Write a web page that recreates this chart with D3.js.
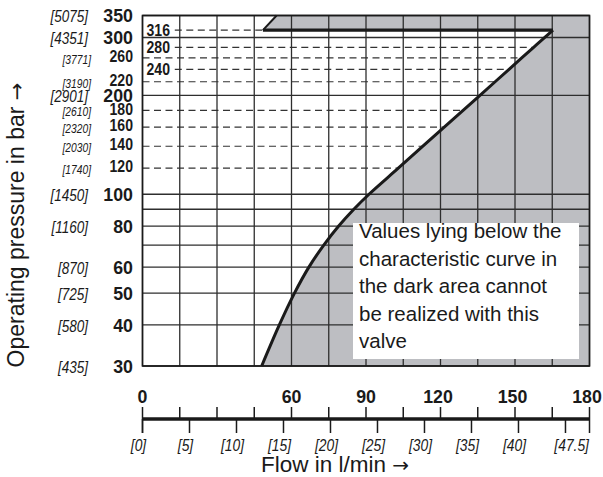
<!DOCTYPE html>
<html>
<head>
<meta charset="utf-8">
<script src="https://cdn.jsdelivr.net/npm/d3@7"></script>
<style>
  body { margin: 0; background: #fff; }
  text { fill: #1a1a1a; }
</style>
</head>
<body>
<script>
// pressure (bar) labels, with psi in brackets
var pressureMajor = [350, 300, 200, 100, 80, 60, 50, 40, 30];
var psiMajor = ['[5075]', '[4351]', '[2901]', '[1450]', '[1160]', '[870]', '[725]', '[580]', '[435]'];
var pressureMinor = [260, 220, 180, 160, 140, 120];
var psiMinor = ['[3771]', '[3190]', '[2610]', '[2320]', '[2030]', '[1740]'];
var pressureInside = [316, 280, 240];

var solidLines = [350, 300, 200, 100, 90, 80, 70, 60, 50, 40, 30];
var dashedLines = [316, 280, 260, 240, 220, 180, 160, 140, 120];

// flow axis
var flowTicks = [0, 15, 30, 45, 60, 75, 90, 105, 120, 135, 150, 165, 180];
var flowLabels = [0, 60, 90, 120, 150, 180];
var gpmTicks = [0, 5, 10, 15, 20, 25, 30, 35, 40, 45];
var gpmLabels = ['[0]', '[5]', '[10]', '[15]', '[20]', '[25]', '[30]', '[35]', '[40]', '[47.5]'];
var gpmValues = [0, 5, 10, 15, 20, 25, 30, 35, 40, 47.5];
var lpmPerGpm = 3.785;

// characteristic curve
var curveBar  = [30, 40, 50, 60, 70, 80, 90, 100, 120, 140, 160, 180, 200, 220, 240, 260, 280, 300, 316];
var curveFlow = [48, 55.1, 61.2, 67, 73, 79, 85.1, 91.2, 103, 112.9, 121.5, 129.1, 135.9, 142, 147.6, 152.7, 157.5, 162, 165.3];
// left edge of the dark area above the 316 bar limit
var limitBar  = [316, 350];
var limitFlow = [48.5, 54];

var note = ['Values lying below the', 'characteristic curve in', 'the dark area cannot',
            'be realized with this', 'valve'];

var W = 603, H = 477;
var sans = "'Liberation Sans', Arial, sans-serif";
var grey = '#bdbec2';
var ink = '#1a1a1a';

var x = d3.scaleLinear().domain([0, 180]).range([142.5, 589.5]);
var y = d3.scaleLog().domain([30, 350]).range([366, 15.5]);

var svg = d3.select('body').append('svg')
  .attr('width', W)
  .attr('height', H);

var curvePts = curveBar.map(function(p, i) { return {p: p, q: curveFlow[i]}; });

// squeezed text, the chart uses a condensed face
function squeezed(sel, sx, px, py) {
  return sel.attr('transform', function(d, i) {
    return 'translate(' + px(d, i) + ',' + py(d, i) + ') scale(' + sx + ',1)';
  });
}

// dashed guide lines (the dark area is painted over them)
svg.append('g').selectAll('line')
  .data(dashedLines)
  .enter().append('line')
  .attr('x1', function(d) { return pressureInside.indexOf(d) >= 0 ? x(13) : x(0); })
  .attr('x2', x(180))
  .attr('y1', function(d) { return y(d); })
  .attr('y2', function(d) { return y(d); })
  .attr('stroke', '#333')
  .attr('stroke-width', 1.2)
  .attr('stroke-dasharray', '7,4.5');

// dark area right of the curve
var area = d3.area()
  .y(function(d) { return y(d.p); })
  .x0(function(d) { return x(d.q); })
  .x1(x(180))
  .curve(d3.curveCatmullRom);

svg.append('path')
  .datum(curvePts)
  .attr('d', area)
  .attr('fill', grey);

var topPts = [
  {p: limitBar[0], q: limitFlow[0]},
  {p: limitBar[1], q: limitFlow[1]},
  {p: limitBar[1], q: 180},
  {p: limitBar[0], q: 180}
];
svg.append('path')
  .datum(topPts)
  .attr('d', d3.line().x(function(d) { return x(d.q); }).y(function(d) { return y(d.p); }))
  .attr('fill', grey);

// solid grid
var grid = svg.append('g').attr('stroke', '#2e2e2e').attr('stroke-width', 1.3);
grid.selectAll('.h')
  .data(solidLines)
  .enter().append('line')
  .attr('x1', x(0)).attr('x2', x(180))
  .attr('y1', function(d) { return y(d); })
  .attr('y2', function(d) { return y(d); });
grid.selectAll('.v')
  .data(flowTicks)
  .enter().append('line')
  .attr('x1', function(d) { return x(d); })
  .attr('x2', function(d) { return x(d); })
  .attr('y1', y(350)).attr('y2', y(30));

// frame
svg.append('rect')
  .attr('x', x(0)).attr('y', y(350))
  .attr('width', x(180) - x(0)).attr('height', y(30) - y(350))
  .attr('fill', 'none').attr('stroke', ink).attr('stroke-width', 1.6);

// characteristic curve
svg.append('path')
  .datum(curvePts)
  .attr('d', d3.line().x(function(d) { return x(d.q); }).y(function(d) { return y(d.p); }).curve(d3.curveCatmullRom))
  .attr('fill', 'none').attr('stroke', ink).attr('stroke-width', 3);

// 316 bar limit
svg.append('line')
  .attr('x1', x(limitFlow[0])).attr('x2', x(curveFlow[curveFlow.length - 1]))
  .attr('y1', y(316)).attr('y2', y(316))
  .attr('stroke', ink).attr('stroke-width', 3.2);
svg.append('line')
  .attr('x1', x(limitFlow[0])).attr('x2', x(limitFlow[1]))
  .attr('y1', y(limitBar[0])).attr('y2', y(limitBar[1]))
  .attr('stroke', ink).attr('stroke-width', 2);

// labels inside the chart
squeezed(svg.append('g').selectAll('text')
  .data(pressureInside)
  .enter().append('text'), 0.88,
  function() { return x(0) + 4; }, function(d) { return y(d); })
  .attr('dy', '0.36em')
  .attr('font-family', sans).attr('font-weight', 'bold').attr('font-size', 16)
  .text(function(d) { return d; });

// y labels, bar
squeezed(svg.append('g').selectAll('text')
  .data(pressureMajor)
  .enter().append('text'), 0.96,
  function() { return 133; }, function(d) { return y(d); })
  .attr('dy', '0.36em')
  .attr('text-anchor', 'end')
  .attr('font-family', sans).attr('font-weight', 'bold').attr('font-size', 18.5)
  .text(function(d) { return d; });
squeezed(svg.append('g').selectAll('text')
  .data(pressureMinor)
  .enter().append('text'), 0.88,
  function() { return 133; }, function(d) { return y(d) - 1.5; })
  .attr('dy', '0.36em')
  .attr('text-anchor', 'end')
  .attr('font-family', sans).attr('font-weight', 'bold').attr('font-size', 16)
  .text(function(d) { return d; });

// y labels, psi
squeezed(svg.append('g').selectAll('text')
  .data(psiMajor)
  .enter().append('text'), 0.82,
  function() { return 88; }, function(d, i) { return y(pressureMajor[i]) + 1; })
  .attr('dy', '0.36em')
  .attr('text-anchor', 'end')
  .attr('font-family', sans).attr('font-style', 'italic').attr('font-size', 16.5)
  .text(function(d) { return d; });
squeezed(svg.append('g').selectAll('text')
  .data(psiMinor)
  .enter().append('text'), 0.76,
  function() { return 91; }, function(d, i) { return y(pressureMinor[i]) + 1; })
  .attr('dy', '0.36em')
  .attr('text-anchor', 'end')
  .attr('font-family', sans).attr('font-style', 'italic').attr('font-size', 13.5)
  .text(function(d) { return d; });

// y title
var yTitle = svg.append('text')
  .attr('transform', 'translate(24,225) rotate(-90)')
  .attr('text-anchor', 'middle')
  .attr('font-family', sans).attr('font-size', 23);
yTitle.append('tspan').text('Operating pressure in bar ');
yTitle.append('tspan').attr('font-family', "'DejaVu Sans', sans-serif").attr('font-size', 21).text('\u2192');

// x axis
var axisY = 419;
var ax = svg.append('g');
ax.append('line')
  .attr('x1', x(0)).attr('x2', x(180))
  .attr('y1', axisY).attr('y2', axisY)
  .attr('stroke', ink).attr('stroke-width', 3.5);
ax.selectAll('.up')
  .data(flowTicks)
  .enter().append('line')
  .attr('x1', function(d) { return x(d); })
  .attr('x2', function(d) { return x(d); })
  .attr('y1', axisY - 12)
  .attr('y2', function(d) { return d === 0 || d === 180 ? axisY + 14 : axisY; })
  .attr('stroke', ink).attr('stroke-width', 1.5);
ax.selectAll('.down')
  .data(gpmTicks)
  .enter().append('line')
  .attr('x1', function(d) { return x(d * lpmPerGpm); })
  .attr('x2', function(d) { return x(d * lpmPerGpm); })
  .attr('y1', axisY).attr('y2', axisY + 14)
  .attr('stroke', ink).attr('stroke-width', 1.5);
squeezed(ax.selectAll('.fl')
  .data(flowLabels)
  .enter().append('text'), 0.96,
  function(d) { return x(d) - (d >= 120 ? 2.5 : 0); }, function() { return 403; })
  .attr('text-anchor', 'middle')
  .attr('font-family', sans).attr('font-weight', 'bold').attr('font-size', 18.5)
  .text(function(d) { return d; });
squeezed(ax.selectAll('.gl')
  .data(gpmLabels)
  .enter().append('text'), 0.84,
  function(d, i) { return x(gpmValues[i] * lpmPerGpm) + (i === gpmLabels.length - 1 ? 0 : -4); },
  function() { return 451; })
  .attr('text-anchor', function(d, i) { return i === gpmLabels.length - 1 ? 'end' : 'middle'; })
  .attr('font-family', sans).attr('font-style', 'italic').attr('font-size', 16.5)
  .text(function(d) { return d; });

var xTitle = svg.append('text')
  .attr('x', 335).attr('y', 472)
  .attr('text-anchor', 'middle')
  .attr('font-family', sans).attr('font-size', 22.5);
xTitle.append('tspan').text('Flow in l/min ');
xTitle.append('tspan').attr('font-family', "'DejaVu Sans', sans-serif").attr('font-size', 20).text('\u2192');

// note box
var box = svg.append('g');
box.append('rect')
  .attr('x', 353).attr('y', 223)
  .attr('width', 226).attr('height', 136)
  .attr('fill', '#fff');
box.selectAll('text')
  .data(note)
  .enter().append('text')
  .attr('x', 359)
  .attr('y', function(d, i) { return 238 + i * 27.5; })
  .attr('font-family', sans).attr('font-size', 20.5)
  .attr('fill', '#222')
  .text(function(d) { return d; });
</script>
</body>
</html>
